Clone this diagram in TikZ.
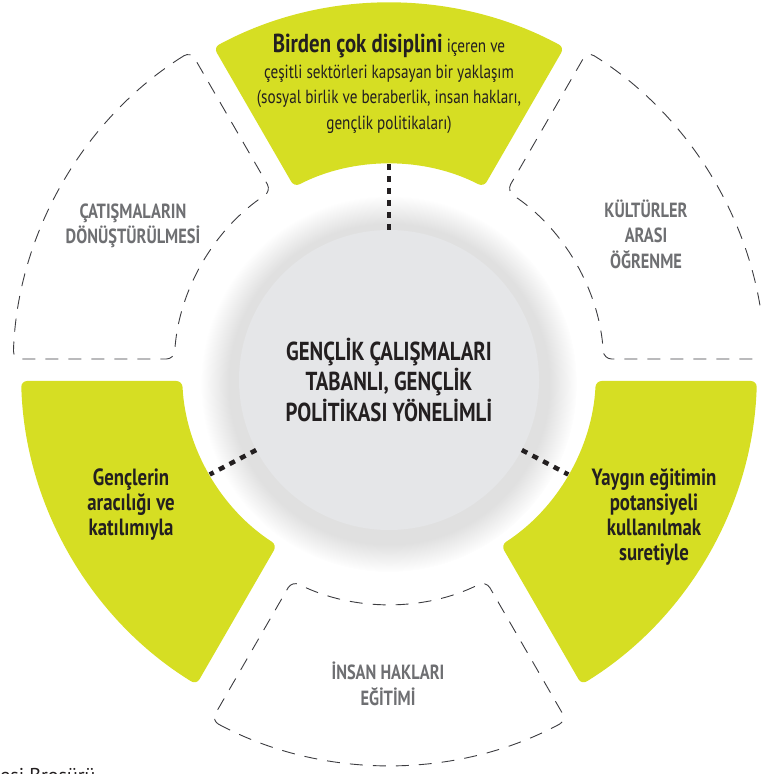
\documentclass[tikz,border=0pt]{standalone}
\usepackage{fontspec}
\newfontfamily\condfont{PT Sans}[FakeStretch=0.8]
\newfontfamily\plainfont{PT Sans}
\definecolor{LimeColor}{RGB}{214,222,35}
\definecolor{HubColor}{RGB}{229,230,232}
\definecolor{InkColor}{RGB}{35,31,32}
\definecolor{MutedColor}{RGB}{110,111,114}
\definecolor{EdgeColor}{RGB}{60,60,64}
\usetikzlibrary{fadings}

\begin{document}
\begin{tikzpicture}[
    x=1bp, y=1bp,
    every node/.style={inner sep=0pt, align=center},
    lime/.style={fill=LimeColor, rounded corners=6bp},
    ghost/.style={draw=EdgeColor, line width=0.9bp, dash pattern=on 13bp off 10bp, rounded corners=8bp},
    hub/.style={circle, fill=HubColor, minimum size=300bp},
    link/.style={draw=InkColor, line width=4.5bp, dash pattern=on 6bp off 6bp},
    headline/.style={font=\condfont\bfseries\fontsize{26bp}{30.5bp}\selectfont, text=InkColor},
    limetext/.style={font=\condfont\bfseries\fontsize{23.5bp}{25bp}\selectfont, text=InkColor},
    ghosttext/.style={font=\condfont\bfseries\fontsize{20.5bp}{25.5bp}\selectfont, text=MutedColor},
    bodytext/.style={font=\condfont\fontsize{19bp}{25.5bp}\selectfont, text=InkColor},
]
\useasboundingbox (0,0) rectangle (761,774);

% Ring centre
\coordinate (ring) at (389,403);

% Hub shadow
\fill[black, opacity=0.12, path fading=circle with fuzzy edge 15 percent] (389,390) circle (188);

% Lime segments
\begin{scope}[shift={(ring)}]
\foreach \a in {60, 180, 300} {
    \fill[lime] ({\a+asin(10/368)}:368)
        arc[start angle={\a+asin(10/368)}, end angle={\a+60-asin(10/368)}, radius=368]
        -- ({\a+60-asin(10/207)}:207)
        arc[start angle={\a+60-asin(10/207)}, end angle={\a+asin(10/207)}, radius=207]
        -- cycle;
}

% Dashed segments
\foreach \a/\dy in {0/0bp, 120/0bp, 240/-18bp} {
    \draw[ghost, yshift=\dy] ({\a+asin(12/376)}:376)
        arc[start angle={\a+asin(12/376)}, end angle={\a+60-asin(12/376)}, radius=376]
        -- ({\a+60-asin(12/215)}:215)
        arc[start angle={\a+60-asin(12/215)}, end angle={\a+asin(12/215)}, radius=215]
        -- cycle;
}
\end{scope}

% Inner ends of the lime segments
\coordinate (topin) at ([shift={(ring)}]90:207);
\coordinate (leftin) at ([shift={(ring)}]210:207);
\coordinate (rightin) at ([shift={(ring)}]330:207);

% Hub
\node[hub, headline] (hub) at (389,394) {GENÇLİK ÇALIŞMALARI\\TABANLI, GENÇLİK\\POLİTİKASI YÖNELİMLİ};

% Links
\foreach \s in {topin, leftin, rightin} {
    \draw[link] (hub) -- (\s);
}

% Lime texts
\node[bodytext] (approach) at (389,690) {{\bfseries\fontsize{26bp}{25.5bp}\selectfont Birden çok disiplini} içeren ve\\
    çeşitli sektörleri kapsayan bir yaklaşım\\
    (sosyal birlik ve beraberlik, insan hakları,\\
    gençlik politikaları)};
\node[limetext] (youth) at (131,269) {Gençlerin\\aracılığı ve\\katılımıyla};
\node[limetext] (nonformal) at (654,257) {Yaygın eğitimin\\potansiyeli\\kullanılmak\\suretiyle};

% Dashed texts
\node[ghosttext] (conflict) at (133,548) {ÇATIŞMALARIN\\DÖNÜŞTÜRÜLMESİ};
\node[ghosttext] (intercult) at (646,540) {KÜLTÜRLER\\ARASI\\ÖĞRENME};
\node[ghosttext] (rights) at (388,90) {İNSAN HAKLARI\\EĞİTİMİ};

% Footer
\node[anchor=base west, font=\plainfont\fontsize{20bp}{24bp}\selectfont, text=InkColor] (footer) at (0,-8) {esi Broşürü};

\end{tikzpicture}
\end{document}
